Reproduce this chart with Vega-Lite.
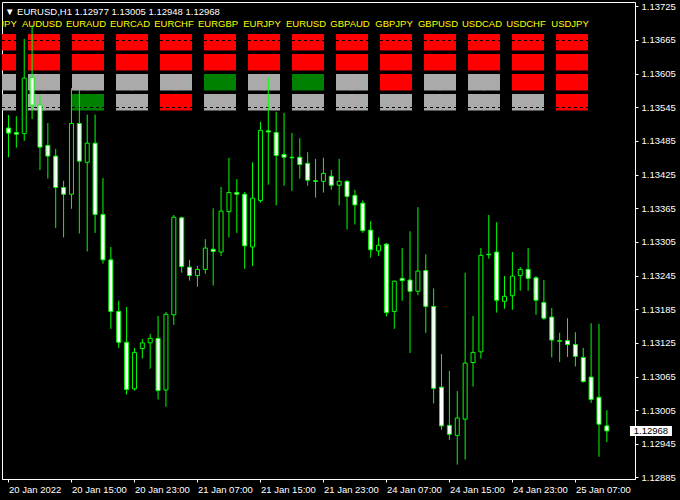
{
  "$schema": "https://vega.github.io/schema/vega-lite/v6.json",
  "width": 633,
  "height": 477,
  "autosize": {"type": "none"},
  "padding": {"left": 2, "top": 2, "right": 45, "bottom": 21},
  "background": "#000000",
  "title": {
    "text": "▼ EURUSD,H1  1.12977 1.13005 1.12948 1.12968",
    "anchor": "start",
    "frame": "group",
    "offset": -23.5,
    "baseline": "alphabetic",
    "dx": 3,
    "color": "#ffffff",
    "font": "Liberation Sans",
    "fontSize": 9.5,
    "fontWeight": "normal"
  },
  "datasets": {
    "candles": [
      {"i": 0, "o": 1.13508, "h": 1.13531, "l": 1.13456, "c": 1.13499},
      {"i": 1, "o": 1.13500, "h": 1.13529, "l": 1.13473, "c": 1.13497},
      {"i": 2, "o": 1.13498, "h": 1.13667, "l": 1.13485, "c": 1.13597},
      {"i": 3, "o": 1.13598, "h": 1.13692, "l": 1.13524, "c": 1.13549},
      {"i": 4, "o": 1.13549, "h": 1.13567, "l": 1.13433, "c": 1.13474},
      {"i": 5, "o": 1.13477, "h": 1.13517, "l": 1.13418, "c": 1.13458},
      {"i": 6, "o": 1.13458, "h": 1.13471, "l": 1.13330, "c": 1.13402},
      {"i": 7, "o": 1.13402, "h": 1.13414, "l": 1.13313, "c": 1.13390},
      {"i": 8, "o": 1.13390, "h": 1.13579, "l": 1.13364, "c": 1.13516},
      {"i": 9, "o": 1.13516, "h": 1.13576, "l": 1.13320, "c": 1.13449},
      {"i": 10, "o": 1.13447, "h": 1.13532, "l": 1.13288, "c": 1.13481},
      {"i": 11, "o": 1.13481, "h": 1.13532, "l": 1.13321, "c": 1.13354},
      {"i": 12, "o": 1.13354, "h": 1.13419, "l": 1.13266, "c": 1.13273},
      {"i": 13, "o": 1.13273, "h": 1.13296, "l": 1.13150, "c": 1.13181},
      {"i": 14, "o": 1.13181, "h": 1.13200, "l": 1.13116, "c": 1.13126},
      {"i": 15, "o": 1.13126, "h": 1.13189, "l": 1.13033, "c": 1.13042},
      {"i": 16, "o": 1.13043, "h": 1.13116, "l": 1.13040, "c": 1.13108},
      {"i": 17, "o": 1.13115, "h": 1.13132, "l": 1.13097, "c": 1.13125},
      {"i": 18, "o": 1.13125, "h": 1.13141, "l": 1.13079, "c": 1.13133},
      {"i": 19, "o": 1.13133, "h": 1.13173, "l": 1.13024, "c": 1.13040},
      {"i": 20, "o": 1.13041, "h": 1.13180, "l": 1.13011, "c": 1.13176},
      {"i": 21, "o": 1.13175, "h": 1.13353, "l": 1.13157, "c": 1.13349},
      {"i": 22, "o": 1.13348, "h": 1.13350, "l": 1.13250, "c": 1.13261},
      {"i": 23, "o": 1.13260, "h": 1.13273, "l": 1.13236, "c": 1.13245},
      {"i": 24, "o": 1.13245, "h": 1.13262, "l": 1.13225, "c": 1.13256},
      {"i": 25, "o": 1.13256, "h": 1.13310, "l": 1.13248, "c": 1.13294},
      {"i": 26, "o": 1.13292, "h": 1.13365, "l": 1.13227, "c": 1.13288},
      {"i": 27, "o": 1.13287, "h": 1.13403, "l": 1.13280, "c": 1.13360},
      {"i": 28, "o": 1.13359, "h": 1.13455, "l": 1.13313, "c": 1.13393},
      {"i": 29, "o": 1.13393, "h": 1.13417, "l": 1.13321, "c": 1.13390},
      {"i": 30, "o": 1.13390, "h": 1.13394, "l": 1.13257, "c": 1.13298},
      {"i": 31, "o": 1.13296, "h": 1.13447, "l": 1.13262, "c": 1.13383},
      {"i": 32, "o": 1.13379, "h": 1.13519, "l": 1.13375, "c": 1.13504},
      {"i": 33, "o": 1.13503, "h": 1.13598, "l": 1.13407, "c": 1.13501},
      {"i": 34, "o": 1.13500, "h": 1.13537, "l": 1.13370, "c": 1.13459},
      {"i": 35, "o": 1.13461, "h": 1.13535, "l": 1.13405, "c": 1.13456},
      {"i": 36, "o": 1.13456, "h": 1.13499, "l": 1.13396, "c": 1.13455},
      {"i": 37, "o": 1.13456, "h": 1.13490, "l": 1.13418, "c": 1.13443},
      {"i": 38, "o": 1.13445, "h": 1.13465, "l": 1.13405, "c": 1.13415},
      {"i": 39, "o": 1.13414, "h": 1.13453, "l": 1.13384, "c": 1.13413},
      {"i": 40, "o": 1.13413, "h": 1.13455, "l": 1.13393, "c": 1.13427},
      {"i": 41, "o": 1.13422, "h": 1.13433, "l": 1.13398, "c": 1.13406},
      {"i": 42, "o": 1.13406, "h": 1.13453, "l": 1.13370, "c": 1.13413},
      {"i": 43, "o": 1.13413, "h": 1.13415, "l": 1.13327, "c": 1.13386},
      {"i": 44, "o": 1.13388, "h": 1.13398, "l": 1.13336, "c": 1.13371},
      {"i": 45, "o": 1.13374, "h": 1.13379, "l": 1.13321, "c": 1.13325},
      {"i": 46, "o": 1.13326, "h": 1.13342, "l": 1.13277, "c": 1.13291},
      {"i": 47, "o": 1.13289, "h": 1.13313, "l": 1.13280, "c": 1.13299},
      {"i": 48, "o": 1.13301, "h": 1.13303, "l": 1.13172, "c": 1.13179},
      {"i": 49, "o": 1.13181, "h": 1.13236, "l": 1.13150, "c": 1.13235},
      {"i": 50, "o": 1.13240, "h": 1.13294, "l": 1.13200, "c": 1.13236},
      {"i": 51, "o": 1.13237, "h": 1.13324, "l": 1.13107, "c": 1.13217},
      {"i": 52, "o": 1.13217, "h": 1.13367, "l": 1.13210, "c": 1.13253},
      {"i": 53, "o": 1.13254, "h": 1.13283, "l": 1.13143, "c": 1.13190},
      {"i": 54, "o": 1.13190, "h": 1.13222, "l": 1.13017, "c": 1.13044},
      {"i": 55, "o": 1.13046, "h": 1.13105, "l": 1.12970, "c": 1.12977},
      {"i": 56, "o": 1.12978, "h": 1.13075, "l": 1.12952, "c": 1.12962},
      {"i": 57, "o": 1.12960, "h": 1.13039, "l": 1.12908, "c": 1.12991},
      {"i": 58, "o": 1.12989, "h": 1.13250, "l": 1.12917, "c": 1.13089},
      {"i": 59, "o": 1.13090, "h": 1.13173, "l": 1.13047, "c": 1.13108},
      {"i": 60, "o": 1.13109, "h": 1.13294, "l": 1.13097, "c": 1.13281},
      {"i": 61, "o": 1.13283, "h": 1.13353, "l": 1.13275, "c": 1.13282},
      {"i": 62, "o": 1.13287, "h": 1.13340, "l": 1.13179, "c": 1.13201},
      {"i": 63, "o": 1.13199, "h": 1.13244, "l": 1.13186, "c": 1.13208},
      {"i": 64, "o": 1.13209, "h": 1.13287, "l": 1.13184, "c": 1.13244},
      {"i": 65, "o": 1.13245, "h": 1.13260, "l": 1.13218, "c": 1.13256},
      {"i": 66, "o": 1.13256, "h": 1.13294, "l": 1.13218, "c": 1.13240},
      {"i": 67, "o": 1.13241, "h": 1.13244, "l": 1.13175, "c": 1.13201},
      {"i": 68, "o": 1.13197, "h": 1.13237, "l": 1.13166, "c": 1.13169},
      {"i": 69, "o": 1.13171, "h": 1.13187, "l": 1.13099, "c": 1.13130},
      {"i": 70, "o": 1.13129, "h": 1.13143, "l": 1.13091, "c": 1.13128},
      {"i": 71, "o": 1.13129, "h": 1.13169, "l": 1.13100, "c": 1.13122},
      {"i": 72, "o": 1.13122, "h": 1.13144, "l": 1.13083, "c": 1.13101},
      {"i": 73, "o": 1.13099, "h": 1.13116, "l": 1.13054, "c": 1.13056},
      {"i": 74, "o": 1.13064, "h": 1.13160, "l": 1.13018, "c": 1.13024},
      {"i": 75, "o": 1.13028, "h": 1.13159, "l": 1.12922, "c": 1.12980},
      {"i": 76, "o": 1.12977, "h": 1.13005, "l": 1.12948, "c": 1.12968}
    ],
    "panel": [
      {"pair": "AUDJPY", "row": 1, "signal": "down"},
      {"pair": "AUDJPY", "row": 2, "signal": "down"},
      {"pair": "AUDJPY", "row": 3, "signal": "flat"},
      {"pair": "AUDJPY", "row": 4, "signal": "flat"},
      {"pair": "AUDUSD", "row": 1, "signal": "down"},
      {"pair": "AUDUSD", "row": 2, "signal": "down"},
      {"pair": "AUDUSD", "row": 3, "signal": "flat"},
      {"pair": "AUDUSD", "row": 4, "signal": "flat"},
      {"pair": "EURAUD", "row": 1, "signal": "down"},
      {"pair": "EURAUD", "row": 2, "signal": "down"},
      {"pair": "EURAUD", "row": 3, "signal": "flat"},
      {"pair": "EURAUD", "row": 4, "signal": "up"},
      {"pair": "EURCAD", "row": 1, "signal": "down"},
      {"pair": "EURCAD", "row": 2, "signal": "down"},
      {"pair": "EURCAD", "row": 3, "signal": "flat"},
      {"pair": "EURCAD", "row": 4, "signal": "flat"},
      {"pair": "EURCHF", "row": 1, "signal": "down"},
      {"pair": "EURCHF", "row": 2, "signal": "down"},
      {"pair": "EURCHF", "row": 3, "signal": "flat"},
      {"pair": "EURCHF", "row": 4, "signal": "down"},
      {"pair": "EURGBP", "row": 1, "signal": "down"},
      {"pair": "EURGBP", "row": 2, "signal": "down"},
      {"pair": "EURGBP", "row": 3, "signal": "up"},
      {"pair": "EURGBP", "row": 4, "signal": "flat"},
      {"pair": "EURJPY", "row": 1, "signal": "down"},
      {"pair": "EURJPY", "row": 2, "signal": "down"},
      {"pair": "EURJPY", "row": 3, "signal": "flat"},
      {"pair": "EURJPY", "row": 4, "signal": "flat"},
      {"pair": "EURUSD", "row": 1, "signal": "down"},
      {"pair": "EURUSD", "row": 2, "signal": "down"},
      {"pair": "EURUSD", "row": 3, "signal": "up"},
      {"pair": "EURUSD", "row": 4, "signal": "flat"},
      {"pair": "GBPAUD", "row": 1, "signal": "down"},
      {"pair": "GBPAUD", "row": 2, "signal": "down"},
      {"pair": "GBPAUD", "row": 3, "signal": "flat"},
      {"pair": "GBPAUD", "row": 4, "signal": "flat"},
      {"pair": "GBPJPY", "row": 1, "signal": "down"},
      {"pair": "GBPJPY", "row": 2, "signal": "down"},
      {"pair": "GBPJPY", "row": 3, "signal": "down"},
      {"pair": "GBPJPY", "row": 4, "signal": "flat"},
      {"pair": "GBPUSD", "row": 1, "signal": "down"},
      {"pair": "GBPUSD", "row": 2, "signal": "down"},
      {"pair": "GBPUSD", "row": 3, "signal": "flat"},
      {"pair": "GBPUSD", "row": 4, "signal": "flat"},
      {"pair": "USDCAD", "row": 1, "signal": "down"},
      {"pair": "USDCAD", "row": 2, "signal": "down"},
      {"pair": "USDCAD", "row": 3, "signal": "flat"},
      {"pair": "USDCAD", "row": 4, "signal": "flat"},
      {"pair": "USDCHF", "row": 1, "signal": "down"},
      {"pair": "USDCHF", "row": 2, "signal": "down"},
      {"pair": "USDCHF", "row": 3, "signal": "down"},
      {"pair": "USDCHF", "row": 4, "signal": "flat"},
      {"pair": "USDJPY", "row": 1, "signal": "down"},
      {"pair": "USDJPY", "row": 2, "signal": "down"},
      {"pair": "USDJPY", "row": 3, "signal": "down"},
      {"pair": "USDJPY", "row": 4, "signal": "down"}
    ],
    "last": [{"price": 1.12968}]
  },
  "layer": [
    {
      "data": {"name": "panel"},
      "layer": [
        {
          "mark": {"type": "rect", "clip": true},
          "encoding": {
            "x": {"field": "pair", "type": "nominal", "sort": null, "axis": null,
                  "scale": {"range": [-24, 592], "paddingInner": 0.272727, "paddingOuter": 0.136364}},
            "y": {"field": "row", "type": "ordinal", "axis": null,
                  "scale": {"range": [30.25, 110.25], "paddingInner": 0.175, "paddingOuter": 0.0875}},
            "fill": {"field": "signal", "type": "nominal", "legend": null,
                     "scale": {"domain": ["down", "up", "flat"], "range": ["#ff0000", "#008000", "#aaaaaa"]}}
          }
        },
        {
          "transform": [{"filter": "datum.signal == 'flat'"}],
          "mark": {"type": "rule", "clip": true, "color": "#b8a4ac", "strokeWidth": 1},
          "encoding": {
            "x": {"field": "pair", "type": "nominal", "sort": null, "bandPosition": 0.5},
            "y": {"field": "row", "type": "ordinal", "bandPosition": 0},
            "y2": {"field": "row", "bandPosition": 1}
          }
        },
        {
          "transform": [{"filter": "datum.row == 1"}],
          "mark": {"type": "rule", "clip": true, "color": "#000000", "strokeWidth": 1, "strokeDash": [3, 3], "yOffset": 6.5},
          "encoding": {
            "x": {"field": "pair", "type": "nominal", "sort": null, "bandPosition": 0},
            "x2": {"field": "pair", "bandPosition": 1},
            "y": {"field": "row", "type": "ordinal", "bandPosition": 0}
          }
        },
        {
          "transform": [{"filter": "datum.row == 4"}],
          "mark": {"type": "rule", "clip": true, "color": "#000000", "strokeWidth": 1, "strokeDash": [3, 3], "yOffset": 13.5},
          "encoding": {
            "x": {"field": "pair", "type": "nominal", "sort": null, "bandPosition": 0},
            "x2": {"field": "pair", "bandPosition": 1},
            "y": {"field": "row", "type": "ordinal", "bandPosition": 0}
          }
        },
        {
          "transform": [{"filter": "datum.row == 1"}],
          "mark": {"type": "text", "clip": true, "color": "#ffff00", "font": "Liberation Sans", "fontSize": 9.5,
                   "align": "center", "baseline": "alphabetic", "dx": -2, "dy": -15.25},
          "encoding": {
            "x": {"field": "pair", "type": "nominal", "sort": null},
            "y": {"field": "row", "type": "ordinal"},
            "text": {"field": "pair", "type": "nominal"}
          }
        }
      ]
    },
    {
      "data": {"name": "candles"},
      "layer": [
        {
          "mark": {"type": "rule", "color": "#00ff00", "strokeWidth": 1},
          "encoding": {
            "x": {"field": "i", "type": "quantitative",
                  "scale": {"domain": [-0.1875, 78.9375], "nice": false, "zero": false},
                  "axis": {
                    "orient": "bottom",
                    "values": [0, 8, 16, 24, 32, 40, 48, 56, 64, 72],
                    "tickCount": 40,
                    "labelExpr": "['20 Jan 2022','20 Jan 15:00','20 Jan 23:00','21 Jan 07:00','21 Jan 15:00','21 Jan 23:00','24 Jan 07:00','24 Jan 15:00','24 Jan 23:00','25 Jan 07:00'][round(datum.value / 8)]",
                    "labelAlign": "left", "labelBaseline": "top", "labelPadding": 2,
                    "labelFlush": false, "labelOverlap": false, "labelBound": false,
                    "tickSize": 3, "tickColor": "#ffffff", "domainColor": "#ffffff",
                    "labelColor": "#ffffff", "labelFont": "Liberation Sans", "labelFontSize": 9.5,
                    "grid": false, "title": null
                  }},
            "y": {"field": "l", "type": "quantitative",
                  "scale": {"domain": [1.128823, 1.137327], "nice": false, "zero": false},
                  "axis": {
                    "orient": "right",
                    "values": [1.13725, 1.13665, 1.13605, 1.13545, 1.13485, 1.13425, 1.13365, 1.13305, 1.13245, 1.13185, 1.13125, 1.13065, 1.13005, 1.12945, 1.12885],
                    "tickCount": 40,
                    "format": ".5f",
                    "labelFlush": false, "labelOverlap": false, "labelBound": false,
                    "tickSize": 3, "labelPadding": 3, "tickColor": "#ffffff", "domainColor": "#ffffff",
                    "labelColor": "#ffffff", "labelFont": "Liberation Sans", "labelFontSize": 9.5,
                    "grid": false, "title": null
                  }},
            "y2": {"field": "h"}
          }
        },
        {
          "mark": {"type": "bar", "width": 4, "stroke": "#00ff00", "strokeWidth": 1},
          "encoding": {
            "x": {"field": "i", "type": "quantitative"},
            "y": {"field": "o", "type": "quantitative"},
            "y2": {"field": "c"},
            "fill": {"condition": {"test": "datum.c < datum.o", "value": "#ffffff"}, "value": "#000000"}
          }
        },
        {
          "data": {"name": "last"},
          "mark": {"type": "tick", "orient": "horizontal", "size": 42, "thickness": 10, "color": "#ffffff", "opacity": 1},
          "encoding": {
            "x": {"datum": 81.6, "type": "quantitative"},
            "y": {"field": "price", "type": "quantitative"}
          }
        },
        {
          "data": {"name": "last"},
          "mark": {"type": "text", "color": "#000000", "font": "Liberation Sans", "fontSize": 9.5, "align": "center", "baseline": "middle"},
          "encoding": {
            "x": {"datum": 81.6, "type": "quantitative"},
            "y": {"field": "price", "type": "quantitative"},
            "text": {"field": "price", "type": "quantitative", "format": ".5f"}
          }
        }
      ]
    }
  ],
  "resolve": {"scale": {"x": "independent", "y": "independent"}},
  "config": {
    "view": {"stroke": "#ffffff", "strokeWidth": 1},
    "font": "Liberation Sans",
    "axis": {"labelOverlap": false, "labelFlush": false, "labelBound": false, "grid": false}
  }
}
